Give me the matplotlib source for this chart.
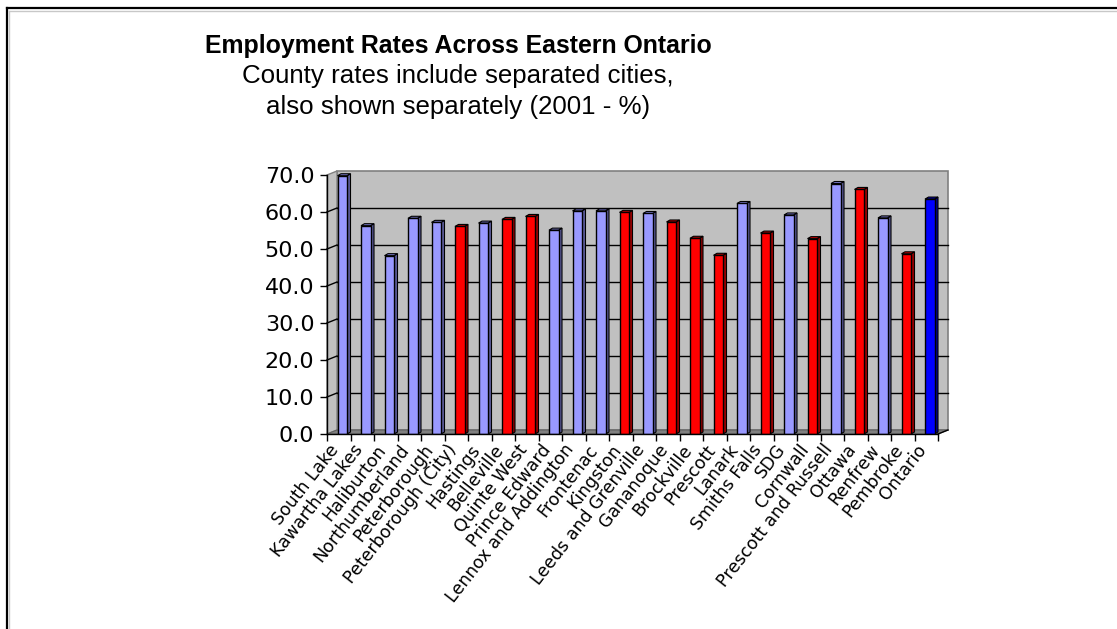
import matplotlib
matplotlib.use("Agg")
import matplotlib.pyplot as plt
from matplotlib.patches import Polygon
from matplotlib.lines import Line2D
from matplotlib.transforms import ScaledTranslation

# ---------------- data ----------------
categories = ["South Lake", "Kawartha Lakes", "Haliburton", "Northumberland",
              "Peterborough", "Peterborough (City)", "Hastings", "Belleville",
              "Quinte West", "Prince Edward", "Lennox and Addington", "Frontenac",
              "Kingston", "Leeds and Grenville", "Gananoque", "Brockville",
              "Prescott", "Lanark", "Smiths Falls", "SDG", "Cornwall",
              "Prescott and Russell", "Ottawa", "Renfrew", "Pembroke", "Ontario"]
values = [69.8, 56.3, 48.2, 58.3, 57.2, 56.1, 57.0, 58.0, 58.8, 55.1, 60.3, 60.3,
          59.9, 59.6, 57.3, 52.9, 48.3, 62.3, 54.3, 59.2, 52.8, 67.7, 66.1, 58.4,
          48.7, 63.5]
kinds = ["county", "county", "county", "county", "county", "city", "county", "city",
         "city", "county", "county", "county", "city", "county", "city", "city",
         "city", "county", "city", "county", "city", "county", "city", "county",
         "city", "province"]
yticks = [0, 10, 20, 30, 40, 50, 60, 70]
ytick_labels = ["0.0", "10.0", "20.0", "30.0", "40.0", "50.0", "60.0", "70.0"]
title = "Employment Rates Across Eastern Ontario"
subtitle_lines = ["County rates include separated cities,",
                  "also shown separately (2001 - %)"]

face = {"county": "#9999FF", "city": "#FF0000", "province": "#0000FF"}
side = {"county": "#5C5C99", "city": "#990000", "province": "#000099"}
top = {"county": "#7A7ACC", "city": "#CC0000", "province": "#0000CC"}

# ---------------- figure ----------------
W, H = 1117, 629
fig = plt.figure(figsize=(W / 100, H / 100), dpi=100)
fig.patch.set_facecolor("white")
ax_l, ax_r, ax_b, ax_t = 327, 938, 434, 175
ax = fig.add_axes([ax_l / W, 1 - ax_b / H, (ax_r - ax_l) / W, (ax_b - ax_t) / H])
n = len(categories)
ax.set_xlim(-0.5, n - 0.5)
ax.set_ylim(0, 70)
ax.patch.set_visible(False)

ppx = (ax_r - ax_l) / n          # pixels per category
ppy = (ax_b - ax_t) / 70.0       # pixels per unit
dxw, dyw = 10 / ppx, 4 / ppy     # wall depth in data units
dxb, dyb = 3.5 / ppx, 2 / ppy    # bar depth
shift = 3.5 / ppx                # bars sit mid-depth
bw = 9.5 / ppx

x0, x1 = -0.5, n - 0.5
# walls & floor
ax.add_patch(Polygon([(x0 + dxw, dyw), (x1 + dxw, dyw), (x1 + dxw, 70 + dyw), (x0 + dxw, 70 + dyw)],
                     closed=True, facecolor="#C0C0C0", edgecolor="#808080", lw=1.2,
                     zorder=0, clip_on=False))
ax.add_patch(Polygon([(x0, 0), (x0, 70), (x0 + dxw, 70 + dyw), (x0 + dxw, dyw)],
                     closed=True, facecolor="#C0C0C0", edgecolor="#808080", lw=1.0,
                     zorder=0.5, clip_on=False))
ax.add_patch(Polygon([(x0, 0), (x1, 0), (x1 + dxw, dyw), (x0 + dxw, dyw)],
                     closed=True, facecolor="#808080", edgecolor="#606060", lw=0.8,
                     zorder=0.6, clip_on=False))
for v in yticks[1:-1]:
    ax.plot([x0 + dxw, x1 + dxw], [v + dyw, v + dyw], color="black", lw=1.0,
            zorder=1, clip_on=False)
    ax.plot([x0, x0 + dxw], [v, v + dyw], color="black", lw=1.0, zorder=1, clip_on=False)

# bars with pseudo-3D faces
xs = list(range(n))
ax.bar([x + shift for x in xs], values, width=bw,
       color=[face[k] for k in kinds], edgecolor="black", linewidth=1.0, zorder=3)
for x, v, k in zip(xs, values, kinds):
    xl = x + shift - bw / 2
    xr = x + shift + bw / 2
    ax.add_patch(Polygon([(xr, 0), (xr, v), (xr + dxb, v + dyb), (xr + dxb, dyb)],
                         closed=True, facecolor=side[k], edgecolor="black", lw=0.8,
                         zorder=2.9, clip_on=False))
    ax.add_patch(Polygon([(xl, v), (xr, v), (xr + dxb, v + dyb), (xl + dxb, v + dyb)],
                         closed=True, facecolor=top[k], edgecolor="black", lw=0.8,
                         zorder=2.9, clip_on=False))

# axes lines
for s in ["top", "right"]:
    ax.spines[s].set_visible(False)
for s in ["left", "bottom"]:
    ax.spines[s].set_color("black")
    ax.spines[s].set_linewidth(1.0)
    ax.spines[s].set_zorder(4)
ax.plot([x1, x1 + dxw], [0, dyw], color="black", lw=1.0, clip_on=False, zorder=4)

ax.set_yticks(yticks)
ax.set_yticklabels(ytick_labels)
ax.tick_params(axis="y", direction="out", length=5, width=1, pad=4, labelsize=16)
ax.set_xticks(xs)
ax.set_xticklabels(categories, rotation=52, ha="right", va="center",
                   rotation_mode="anchor", fontsize=12.5)
ax.tick_params(axis="x", which="major", length=0, pad=9)
ax.set_xticks([x - 0.5 for x in range(n + 1)], minor=True)
ax.tick_params(axis="x", which="minor", direction="out", length=5, width=1)
off = ScaledTranslation(-3 / 100, 0, fig.dpi_scale_trans)
for lab in ax.get_xticklabels():
    lab.set_transform(lab.get_transform() + off)

# titles
cx = 458 / W
tf = ["Liberation Sans", "DejaVu Sans"]
t1 = fig.text(cx, 1 - 53 / H, title, ha="center", va="baseline",
              fontsize=20, fontweight="bold", family=tf)
t2 = fig.text(cx, 1 - 83 / H, subtitle_lines[0], ha="center", va="baseline",
              fontsize=20, family=tf)
t3 = fig.text(cx, 1 - 114 / H, subtitle_lines[1], ha="center", va="baseline",
              fontsize=20, family=tf)
fig.canvas.draw()
r = fig.canvas.get_renderer()
w1 = t1.get_window_extent(r).width
t1.set_fontsize(20 * 507 / w1)
w2 = t2.get_window_extent(r).width
fs = 20 * 430 / w2
t2.set_fontsize(fs)
t3.set_fontsize(fs)

# outer frame
fig.add_artist(Line2D([7 / W, 1.0], [1 - 8 / H, 1 - 8 / H], color="black", lw=1.6,
                      transform=fig.transFigure))
fig.add_artist(Line2D([7 / W, 7 / W], [0, 1 - 8 / H], color="black", lw=1.6,
                      transform=fig.transFigure))
fig.add_artist(Line2D([9.5 / W, 1.0], [1 - 10.5 / H, 1 - 10.5 / H], color="#C8C8C8", lw=1.0,
                      transform=fig.transFigure))
fig.add_artist(Line2D([9.5 / W, 9.5 / W], [0, 1 - 10.5 / H], color="#C8C8C8", lw=1.0,
                      transform=fig.transFigure))

fig.savefig("out.png", dpi=100)
